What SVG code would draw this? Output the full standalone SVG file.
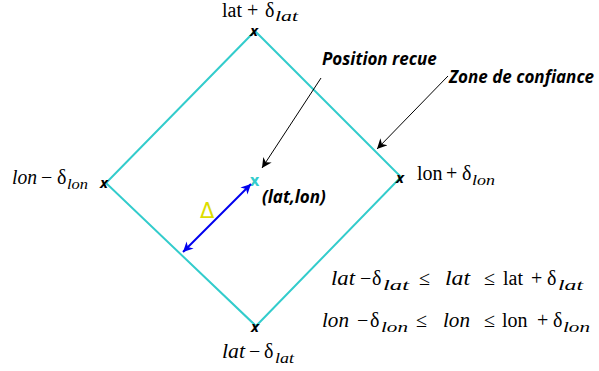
<svg xmlns="http://www.w3.org/2000/svg" width="599" height="371" viewBox="0 0 599 371">
<style>
.m{font-family:"Liberation Serif","DejaVu Serif",serif;font-size:20px;fill:#000}
.i{font-style:italic}
.s{font-family:"Liberation Serif","DejaVu Serif",serif;font-size:15px;font-style:italic;fill:#000}
.x{font-family:"Open Sans","Liberation Sans",sans-serif;font-size:15px;font-weight:bold;font-style:italic;fill:#000}
.lb{font-family:"Open Sans","Liberation Sans",sans-serif;font-size:17px;font-weight:bold;font-style:italic;fill:#000}
.ptr{stroke:#000;stroke-width:1;fill:none}
</style>
<defs>
<marker id="ah" viewBox="0 0 10 10" refX="10" refY="5" markerWidth="13" markerHeight="10" markerUnits="userSpaceOnUse" orient="auto"><path d="M0,0 L10,5 L0,10 L3,5 Z" fill="#000"/></marker>
<marker id="bh" viewBox="0 0 10 10" refX="10" refY="5" markerWidth="13" markerHeight="10" markerUnits="userSpaceOnUse" orient="auto-start-reverse"><path d="M0,0 L10,5 L0,10 L3,5 Z" fill="#0000ee"/></marker>
</defs>
<g id="zone">
<polygon points="255,31 401,177 256,326 106,183" fill="none" stroke="#33cccc" stroke-width="2"/>
</g>
<g id="top"><text class="x" x="250" y="36">x</text><text class="m" x="222" y="17">lat</text><text class="m" x="247" y="17">+</text><text class="m" x="265" y="17">δ</text><text class="s" x="275" y="21" textLength="23" lengthAdjust="spacingAndGlyphs">lat</text></g>
<g id="left"><text class="x" x="100" y="188">x</text><text class="m i" x="12" y="184" textLength="25" lengthAdjust="spacingAndGlyphs">lon</text><text class="m" x="41" y="184">−</text><text class="m" x="57" y="184">δ</text><text class="s" x="67" y="189" textLength="21" lengthAdjust="spacingAndGlyphs">lon</text></g>
<g id="right"><text class="x" x="396" y="183">x</text><text class="m" x="417" y="180">lon</text><text class="m" x="446" y="180">+</text><text class="m" x="462" y="180">δ</text><text class="s" x="472" y="185" textLength="23" lengthAdjust="spacingAndGlyphs">lon</text></g>
<g id="bottom"><text class="x" x="251" y="332">x</text><text class="m i" x="222" y="358" textLength="23" lengthAdjust="spacingAndGlyphs">lat</text><text class="m" x="249" y="358">−</text><text class="m" x="264" y="358">δ</text><text class="s" x="275" y="363" textLength="19" lengthAdjust="spacingAndGlyphs">lat</text></g>
<g id="center"><text x="250" y="186" font-family="Open Sans,Liberation Sans,sans-serif" font-size="16" font-weight="bold" fill="#33cccc">x</text><text class="lb" x="262" y="203" font-size="16">(lat,lon)</text></g>
<g id="delta"><text x="200" y="218" font-family="DejaVu Sans,sans-serif" font-size="21" fill="#dddd00">Δ</text></g>
<g id="labels"><text class="lb" x="322" y="65">Position recue</text><text class="lb" x="449" y="83">Zone de confiance</text></g>
<g id="eq">
<text class="m i" x="331" y="285" textLength="24" lengthAdjust="spacingAndGlyphs">lat</text><text class="m" x="360" y="285">−</text><text class="m" x="372" y="285">δ</text><text class="s" x="383" y="290" textLength="26" lengthAdjust="spacingAndGlyphs">lat</text>
<text class="m" x="419" y="285">≤</text><text class="m i" x="445" y="285" textLength="25" lengthAdjust="spacingAndGlyphs">lat</text><text class="m" x="484" y="285">≤</text>
<text class="m" x="503" y="285">lat</text><text class="m" x="531" y="285">+</text><text class="m" x="547" y="285">δ</text><text class="s" x="558" y="290" textLength="25" lengthAdjust="spacingAndGlyphs">lat</text>
<text class="m i" x="322" y="327" textLength="27" lengthAdjust="spacingAndGlyphs">lon</text><text class="m" x="357" y="327">−</text><text class="m" x="370" y="327">δ</text><text class="s" x="381" y="332" textLength="27" lengthAdjust="spacingAndGlyphs">lon</text>
<text class="m" x="416" y="327">≤</text><text class="m i" x="443" y="327" textLength="27" lengthAdjust="spacingAndGlyphs">lon</text><text class="m" x="484" y="327">≤</text>
<text class="m" x="502" y="327">lon</text><text class="m" x="537" y="327">+</text><text class="m" x="553" y="327">δ</text><text class="s" x="563" y="332" textLength="27" lengthAdjust="spacingAndGlyphs">lon</text>
</g>
<g id="connectors">
<line class="ptr" x1="321" y1="78" x2="262" y2="168" marker-end="url(#ah)"/>
<line class="ptr" x1="448" y1="76" x2="377" y2="149" marker-end="url(#ah)"/>
<line x1="183" y1="252" x2="251" y2="184" stroke="#0000ee" stroke-width="2" marker-start="url(#bh)" marker-end="url(#bh)"/>
</g>
</svg>
